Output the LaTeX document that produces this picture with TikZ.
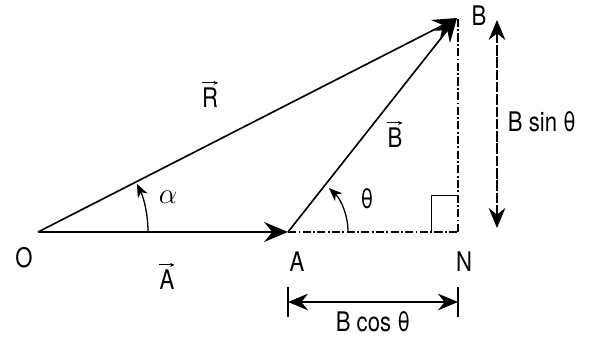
\documentclass[tikz,border=0pt]{standalone}
\usepackage{fontspec}
\setmainfont{TeX Gyre Heros}[FakeStretch=0.82]
\usetikzlibrary{arrows.meta}
\begin{document}
\begin{tikzpicture}[x=0.03cm,y=-0.03cm,
  vecline/.style={line width=1.4pt,-{Stealth[length=0.72cm,width=0.6cm,inset=0.25cm]}},
  dimline/.style={line width=1.3pt,{Stealth[length=0.6cm,width=0.5cm,inset=0.2cm]}-{Stealth[length=0.6cm,width=0.5cm,inset=0.2cm]}},
  dashdot/.style={line width=1.4pt,dash pattern=on 7pt off 2pt on 1.5pt off 2pt},
  anglearc/.style={line width=1.1pt,-{Stealth[length=0.4cm,width=0.32cm,inset=0.12cm]}},
  lbl/.style={font=\fontsize{23}{27}\selectfont, inner sep=0pt},
  overarrow/.style={line width=0.8pt,-{Stealth[length=0.14cm,width=0.12cm]}},
  thinline/.style={line width=0.8pt}]
\useasboundingbox (0,0) rectangle (597,339);
\coordinate (O) at (38,232);
\coordinate (A) at (288,232);
\coordinate (B) at (457,18);
\coordinate (N) at (458,232);
\coordinate (Nt) at (458,18);
% main vectors
\draw[vecline] (O) -- (A);
\draw[vecline] (O) -- (B);
\draw[vecline] (A) -- (B);
% components
\draw[dashdot] (A) -- (N);
\draw[dashdot] (N) -- (Nt);
% right angle mark
\coordinate (s1) at (431,232);
\coordinate (s2) at (431,195);
\coordinate (s3) at (458,195);
\draw[thinline] (s1) -- (s2) -- (s3);
% angle arcs
\draw[anglearc] ([xshift=3.3cm]O) arc[start angle=0,end angle=26,radius=3.3cm];
\draw[anglearc] ([xshift=1.8cm]A) arc[start angle=0,end angle=47,radius=1.8cm];
% B cos theta dimension
\coordinate (d1t) at (288,287);
\coordinate (d1b) at (288,317);
\coordinate (d2t) at (458,287);
\coordinate (d2b) at (458,317);
\coordinate (d1) at (288,302);
\coordinate (d2) at (458,302);
\draw[line width=1.3pt] (d1t) -- (d1b);
\draw[line width=1.3pt] (d2t) -- (d2b);
\draw[dimline] (d1) -- (d2);
% B sin theta
\coordinate (e1) at (497,20);
\coordinate (e2) at (497,228);
\draw[dimline, dash pattern=on 9pt off 1.5pt] (e1) -- (e2);
% labels
\node[lbl] (lO) at (24,258) {O};
\node[lbl] (lA) at (297,262) {A};
\node[lbl] (lN) at (464,262) {N};
\node[lbl] (lB) at (479,16) {B};
\node[lbl] (lvA) at (167,280) {A};
\node[lbl] (lvB) at (395,138) {B};
\node[lbl] (lvR) at (210,98) {R};
\draw[overarrow] ([yshift=0.15cm]lvA.north west) -- ([yshift=0.15cm]lvA.north east);
\draw[overarrow] ([yshift=0.15cm]lvB.north west) -- ([yshift=0.15cm]lvB.north east);
\draw[overarrow] ([yshift=0.15cm]lvR.north west) -- ([yshift=0.15cm]lvR.north east);
\node[lbl] (lal) at (168,197) {$\alpha$};
\node[lbl] (lth) at (367,199) {θ};
\node[lbl] (lbc) at (373,322) {B cos θ};
\node[lbl,fill=white,inner sep=2pt] (lbs) at (542,122) {B sin θ};
\end{tikzpicture}
\end{document}
